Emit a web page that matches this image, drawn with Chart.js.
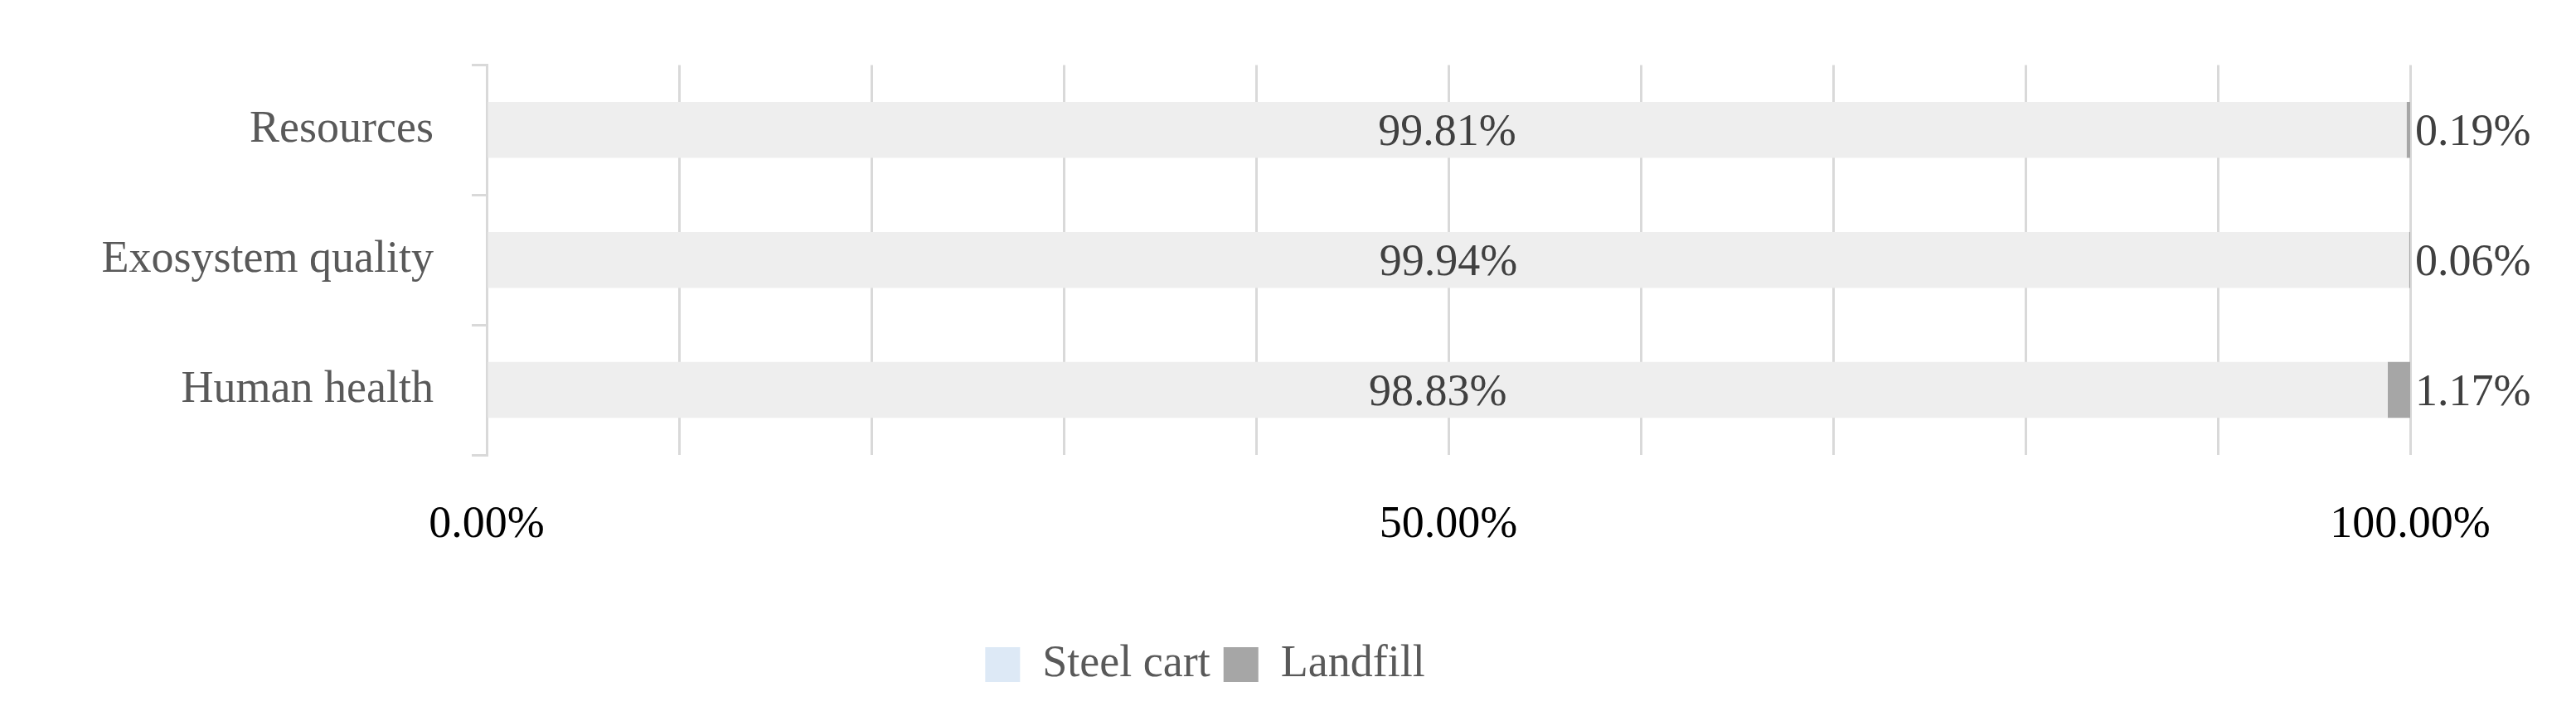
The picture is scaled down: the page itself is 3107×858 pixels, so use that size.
<!DOCTYPE html><html><head><meta charset="utf-8">
<script src="https://cdn.jsdelivr.net/npm/chart.js@4"></script>
<style>html,body{margin:0;background:#fff}#w{width:3107px;height:858px}</style></head><body>
<div id="w"><canvas id="c"></canvas></div>
<script>
const categories=["Resources","Exosystem quality","Human health"];
const steelCart=[99.81,99.94,98.83];
const landfill=[0.19,0.06,1.17];
const xTicks=[0,50,100];
const F="'Liberation Serif','DejaVu Serif',serif";
const labelPlugin={id:'lbl',afterDatasetsDraw(ch){const c=ch.ctx;c.save();c.font="54px "+F;c.fillStyle="#404040";c.textBaseline="middle";
 ch.getDatasetMeta(0).data.forEach((b,i)=>{c.textAlign="center";c.fillText(steelCart[i].toFixed(2)+"%",(b.base+b.x)/2,b.y+4);});
 ch.getDatasetMeta(1).data.forEach((b,i)=>{c.textAlign="left";c.fillText(landfill[i].toFixed(2)+"%",b.x+6,b.y+4);});
 c.restore();}};
new Chart(document.getElementById('c'),{type:'bar',
data:{labels:categories,datasets:[
 {label:'Steel cart',data:steelCart,backgroundColor:'#eeeeee',categoryPercentage:0.86,barPercentage:0.5},
 {label:'Landfill',data:landfill,backgroundColor:'#a6a6a6',categoryPercentage:0.86,barPercentage:0.5}]},
options:{indexAxis:'y',responsive:true,maintainAspectRatio:false,animation:false,devicePixelRatio:1,
 layout:{padding:{left:0,right:200,top:30,bottom:19}},
 plugins:{tooltip:{enabled:false},legend:{position:'bottom',labels:{font:{family:F,size:54},color:'#595959',boxWidth:42,boxHeight:42,padding:16,
  generateLabels(ch){return ch.data.datasets.map((d,i)=>({text:d.label,fillStyle:i==0?'#dde9f6':'#a6a6a6',strokeStyle:'transparent',lineWidth:0,datasetIndex:i,fontColor:'#595959'}));}}}},
 scales:{
  x:{stacked:true,min:0,max:100,afterFit(a){a.height=210;},
   afterBuildTicks(a){a.ticks=[0,10,20,30,40,50,60,70,80,90,100].map(v=>({value:v}));},
   grid:{color:'#d9d9d9',lineWidth:3,drawTicks:false},border:{display:false},
   ticks:{padding:52,font:{family:F,size:54},color:'#000',autoSkip:false,callback:v=>xTicks.includes(v)?v.toFixed(2)+"%":""}},
  y:{stacked:true,afterFit(a){a.width=587;},
   grid:{display:true,offset:true,drawOnChartArea:false,color:'#d9d9d9',lineWidth:3,tickLength:18},border:{color:'#d9d9d9',width:3},
   ticks:{padding:46,font:{family:F,size:54},color:'#595959'}}}},
plugins:[labelPlugin]});
</script></body></html>
